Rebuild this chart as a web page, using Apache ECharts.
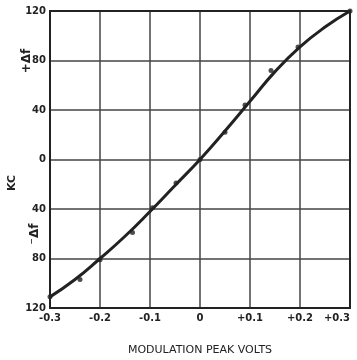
<!DOCTYPE html>
<html><head><meta charset="utf-8">
<script src="https://cdn.jsdelivr.net/npm/echarts@6/dist/echarts.min.js"></script>
<style>html,body{margin:0;padding:0;background:#fff}#c{width:357px;height:360px}</style>
</head><body><div id="c"></div>
<script>
// Smooth response curve (modulation peak volts vs KC deviation)
const curveVolts = [-0.3, -0.25, -0.2, -0.15, -0.1, -0.05, 0, 0.05, 0.1, 0.15, 0.2, 0.25, 0.3];
const curveKc    = [-111, -97, -80, -62, -42, -21, 0, 23, 47, 71, 91, 107, 120];
// Measured points (dots)
const dotVolts = [-0.3, -0.24, -0.2, -0.135, -0.095, -0.048, 0, 0.05, 0.09, 0.142, 0.196, 0.3];
const dotKc    = [-111, -97, -81, -59, -39, -19, 0, 22, 44, 72, 91, 120];
const xTicks = ['-0.3', '-0.2', '-0.1', '0', '+0.1', '+0.2', '+0.3'];
const yTicks = ['120', '80', '40', '0', '40', '80', '120'];

const font = '"DejaVu Sans", sans-serif';
const chart = echarts.init(document.getElementById('c'), null, {renderer: 'canvas'});
chart.setOption({
  animation: false,
  backgroundColor: '#fff',
  grid: {left: 50, right: 7, top: 11, bottom: 52, containLabel: false, outerBoundsMode: 'none'},
  xAxis: {
    type: 'value', min: -0.3, max: 0.3, interval: 0.1,
    name: 'MODULATION PEAK VOLTS', nameLocation: 'middle', nameGap: 37,
    nameTextStyle: {fontFamily: font, fontSize: 11, color: '#222'},
    axisLine: {show: true, onZero: false, lineStyle: {color: '#222', width: 2}},
    axisTick: {show: false},
    splitLine: {show: true, lineStyle: {color: '#444', width: 1.5}},
    axisLabel: {
      margin: 5, fontFamily: font, fontSize: 10, color: '#222', fontWeight: 'bold',
      alignMaxLabel: 'right',
      formatter: v => xTicks[Math.round((v + 0.3) * 10)]
    }
  },
  yAxis: {
    type: 'value', min: -120, max: 120, interval: 40,
    axisLine: {show: true, onZero: false, lineStyle: {color: '#222', width: 2}},
    axisTick: {show: false},
    splitLine: {show: true, lineStyle: {color: '#444', width: 1.5}},
    axisLabel: {
      margin: 4, fontFamily: font, fontSize: 10, color: '#222', fontWeight: 'bold',
      formatter: v => yTicks[Math.round((120 - v) / 40)]
    }
  },
  graphic: [
    {type: 'rect', shape: {x: 50, y: 11, width: 300, height: 297}, style: {fill: 'none', stroke: '#222', lineWidth: 2}, z: 10},
    {type: 'text', x: 27, y: 61, rotation: Math.PI / 2, style: {text: '+Δf', font: 'bold 12px ' + font, fill: '#222', align: 'center', verticalAlign: 'middle'}},
    {type: 'text', x: 12, y: 183, rotation: Math.PI / 2, style: {text: 'KC', font: 'bold 11px ' + font, fill: '#222', align: 'center', verticalAlign: 'middle'}},
    {type: 'text', x: 35, y: 234, rotation: Math.PI / 2, style: {text: '⁻Δf', font: 'bold 12px ' + font, fill: '#222', align: 'center', verticalAlign: 'middle'}}
  ],
  series: [
    {
      type: 'line', smooth: 0.5, symbol: 'none',
      data: curveVolts.map((x, i) => [x, curveKc[i]]),
      lineStyle: {color: '#222', width: 3}, z: 5
    },
    {
      type: 'scatter', symbol: 'circle', symbolSize: 5,
      data: dotVolts.map((x, i) => [x, dotKc[i]]),
      itemStyle: {color: '#222'}, z: 6
    }
  ]
});
</script></body></html>
